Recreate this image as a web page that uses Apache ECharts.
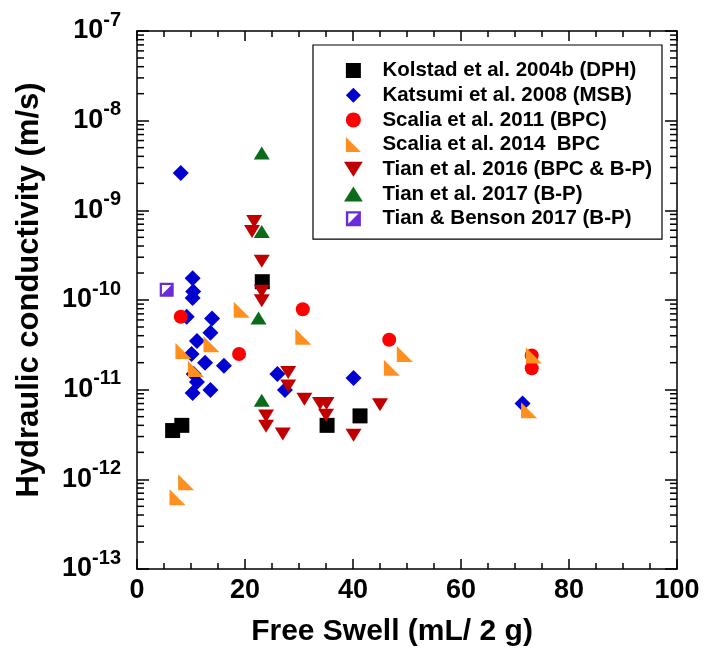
<!DOCTYPE html>
<html>
<head>
<meta charset="utf-8">
<script src="https://cdn.jsdelivr.net/npm/echarts@6/dist/echarts.min.js"></script>
<style>
  html, body { margin: 0; padding: 0; background: #fff; }
  #chart { width: 704px; height: 655px; }
</style>
</head>
<body>
<div id="chart"></div>
<script>
// ---- data (free swell mL/2g, hydraulic conductivity m/s) ----
const kolstad = [[23.2,1.6e-10],[8.3,4.0e-12],[6.6,3.5e-12],[35.2,4.0e-12],[41.3,5.1e-12]];
const katsumi = [[8.1,2.6e-9],[10.3,1.75e-10],[10.4,1.24e-10],[10.3,1.05e-10],[9.2,6.5e-11],
  [13.9,6.2e-11],[13.6,4.3e-11],[11.1,3.5e-11],[10.1,2.5e-11],[12.6,2.0e-11],[16.1,1.85e-11],
  [10.5,1.5e-11],[11.1,1.22e-11],[10.3,9.2e-12],[13.6,9.9e-12],[26.0,1.5e-11],[27.4,9.9e-12],
  [40.1,1.35e-11],[71.4,7.0e-12]];
const scalia2011 = [[8.1,6.5e-11],[30.7,7.9e-11],[18.9,2.5e-11],[46.7,3.6e-11],[73.1,2.4e-11],[73.1,1.73e-11]];
const scalia2014 = [[19.4,7.8e-11],[30.8,3.9e-11],[8.6,2.7e-11],[13.8,3.2e-11],[10.9,1.7e-11],
  [9.1,9.3e-13],[7.5,6.3e-13],[49.6,2.5e-11],[47.2,1.75e-11],[73.5,2.4e-11],[72.6,5.9e-12]];
const tian2016 = [[21.7,7.5e-10],[21.3,5.8e-10],[23.1,2.7e-10],[23.1,1.25e-10],[23.1,9.8e-11],
  [28.0,1.55e-11],[28.0,1.1e-11],[31.0,7.8e-12],[23.9,5.1e-12],[23.9,3.9e-12],[27.0,3.2e-12],
  [33.9,7.0e-12],[35.1,7.0e-12],[35.0,5.2e-12],[45.0,6.8e-12],[40.1,3.1e-12]];
const tian2017 = [[23.1,4.36e-9],[23.1,5.8e-10],[22.5,6.3e-11],[23.1,7.6e-12]];
const tianBenson = [[5.5,1.3e-10]];

const seriesNames = ['Kolstad et al. 2004b (DPH)','Katsumi et al. 2008 (MSB)','Scalia et al. 2011 (BPC)',
  'Scalia et al. 2014  BPC','Tian et al. 2016 (BPC & B-P)','Tian et al. 2017 (B-P)','Tian & Benson 2017 (B-P)'];

// axis ticks
const xTicks = [0,20,40,60,80,100];
const yDecades = [-13,-12,-11,-10,-9,-8,-7];
const minorMultipliers = [2,3,4,5,6,7,8,9];

const minorTickData = [];
yDecades.slice(0,-1).forEach(function(e){
  minorMultipliers.forEach(function(m){ minorTickData.push([0, m*Math.pow(10,e)]); });
});

const FONT = '"Liberation Sans", Arial, sans-serif';
const squareP = 'path://M0,0 L10,0 L10,10 L0,10 Z';
const diamondP = 'path://M5,0 L10,5 L5,10 L0,5 Z';
const circleP = 'circle';
const orangeTri = 'path://M0,0 L0,10 L10,10 Z';
const downTri = 'path://M0,0 L10,0 L5,8 Z';
const upTri = 'path://M5,0 L10,8 L0,8 Z';
const halfSquare = 'path://M0,0 L10,0 L10,10 L0,10 Z M1.6,1.6 L1.6,8.4 L8.4,8.4 L8.4,1.6 Z M8.4,1.6 L8.4,8.4 L1.6,8.4 Z';

const chart = echarts.init(document.getElementById('chart'), null, {renderer:'canvas'});

function sc(name, data, symbol, size, color){
  return {type:'scatter', name:name, data:data, symbol:symbol, symbolSize:size,
    itemStyle:{color:color, opacity:1}, xAxisIndex:0, yAxisIndex:0, z:3, animation:false};
}

const option = {
  backgroundColor:'#fff',
  animation:false,
  grid:{left:137, right:27, top:31, bottom:86, containLabel:false},
  legend:{
    orient:'vertical', left:313, top:45,
    padding:[15,10,10,31],
    itemWidth:48, itemHeight:15, itemGap:3.7,
    borderColor:'#000', borderWidth:1.2, backgroundColor:'#fff',
    symbolKeepAspect:true,
    textStyle:{fontFamily:FONT, fontWeight:'bold', fontSize:20.5, color:'#000', lineHeight:20},
    data:[
      {name:seriesNames[0], icon:squareP},
      {name:seriesNames[1], icon:diamondP},
      {name:seriesNames[2], icon:circleP},
      {name:seriesNames[3], icon:orangeTri},
      {name:seriesNames[4], icon:downTri},
      {name:seriesNames[5], icon:upTri},
      {name:seriesNames[6], icon:halfSquare}
    ],
    selectedMode:false
  },
  xAxis:[{
    type:'value', min:0, max:100, interval:20, position:'bottom',
    name:'Free Swell (mL/ 2 g)', nameLocation:'middle', nameGap:48,
    nameTextStyle:{fontFamily:FONT, fontWeight:'bold', fontSize:30, color:'#000', padding:[0,30,0,0]},
    axisLine:{show:true, onZero:false, lineStyle:{color:'#000', width:1.5}},
    axisTick:{show:true, inside:true, length:10, lineStyle:{color:'#000', width:1.5}},
    minorTick:{show:true, splitNumber:4, length:6, lineStyle:{color:'#000', width:1.5}},
    axisLabel:{margin:8, fontFamily:FONT, fontWeight:'bold', fontSize:27, color:'#000',
      formatter:function(v){ return xTicks.indexOf(v) >= 0 ? String(v) : ''; }},
    splitLine:{show:false}
  },{
    type:'value', min:0, max:100, interval:20, position:'top',
    axisLine:{show:true, onZero:false, lineStyle:{color:'#000', width:1.5}},
    axisTick:{show:true, inside:true, length:10, lineStyle:{color:'#000', width:1.5}},
    minorTick:{show:true, splitNumber:4, length:6, lineStyle:{color:'#000', width:1.5}},
    axisLabel:{show:false}, splitLine:{show:false}
  }],
  yAxis:[{
    type:'log', logBase:10, min:1e-13, max:1e-7, splitNumber:6, position:'left',
    name:'Hydraulic conductivity (m/s)', nameLocation:'middle', nameRotate:90, nameGap:92,
    nameTextStyle:{fontFamily:FONT, fontWeight:'bold', fontSize:31, color:'#000', padding:[0,0,0,20]},
    axisLine:{show:true, onZero:false, lineStyle:{color:'#000', width:1.5}},
    axisTick:{show:true, inside:true, length:12, lineStyle:{color:'#000', width:1.5}},
    axisLabel:{margin:16, color:'#000',
      formatter:function(v){
        const e = Math.round(Math.log10(v));
        return '{b|10}{s|' + e + '}';
      },
      rich:{
        b:{fontFamily:FONT, fontWeight:'bold', fontSize:27, color:'#000', padding:[0,0,0,0]},
        s:{fontFamily:FONT, fontWeight:'bold', fontSize:20, color:'#000', padding:[0,0,22,0]}
      }
    },
    splitLine:{show:false}
  },{
    type:'log', logBase:10, min:1e-13, max:1e-7, splitNumber:6, position:'right',
    axisLine:{show:true, onZero:false, lineStyle:{color:'#000', width:1.5}},
    axisTick:{show:true, inside:true, length:12, lineStyle:{color:'#000', width:1.5}},
    axisLabel:{show:false}, splitLine:{show:false}
  }],
  series:[
    {
      type:'custom', name:'minorTicks', silent:true, clip:false, z:1,
      xAxisIndex:0, yAxisIndex:0, encode:{x:0, y:1},
      data:minorTickData,
      renderItem:function(params, api){
        const v = api.value(1);
        const a = api.coord([0, v]);
        const b = api.coord([100, v]);
        return {type:'group', children:[
          {type:'line', shape:{x1:a[0], y1:a[1], x2:a[0]+7, y2:a[1]}, style:{stroke:'#000', lineWidth:1.5}},
          {type:'line', shape:{x1:b[0], y1:b[1], x2:b[0]-7, y2:b[1]}, style:{stroke:'#000', lineWidth:1.5}}
        ]};
      }
    },
    sc(seriesNames[0], kolstad, 'rect', 15, '#000000'),
    sc(seriesNames[1], katsumi, 'diamond', 16, '#0000D0'),
    sc(seriesNames[2], scalia2011, 'circle', 14, '#FF0000'),
    sc(seriesNames[3], scalia2014, orangeTri, 16, '#FF8F1F'),
    sc(seriesNames[4], tian2016, downTri, [16,13], '#C00000'),
    sc(seriesNames[5], tian2017, upTri, [16,13], '#0B6B1B'),
    sc(seriesNames[6], tianBenson, halfSquare, 14, '#6A2BD8')
  ]
};
chart.setOption(option);
</script>
</body>
</html>
